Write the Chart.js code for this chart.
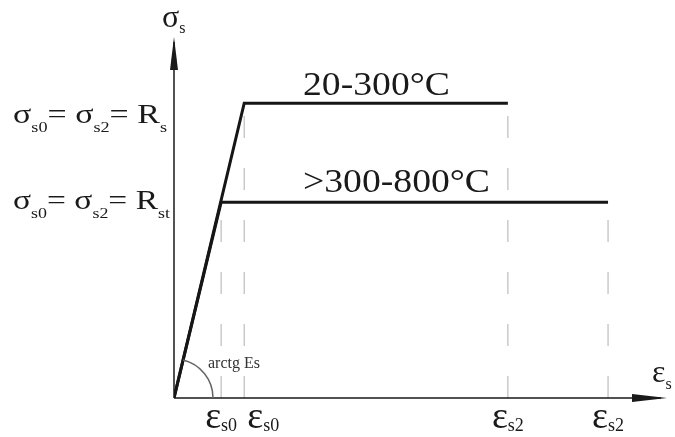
<!DOCTYPE html>
<html>
<head>
<meta charset="utf-8">
<script src="https://cdn.jsdelivr.net/npm/chart.js@4/dist/chart.umd.min.js"></script>
<style>
  html, body { margin: 0; padding: 0; background: #fff; }
  #wrap { width: 675px; height: 437px; }
</style>
</head>
<body>
<div id="wrap"><canvas id="stressChart" width="675" height="437"></canvas></div>
<script>
// strain positions on the horizontal axis (relative units, axis runs 0..100)
const strainTicks = [9.6, 14.3, 68.0, 88.4];
const strainMain = ['ε', 'ε', 'ε', 'ε'];
const strainSub = ['s0', 's0', 's2', 's2'];
const guideTops = [54.4, 81.9, 81.9, 54.4];

// stress levels on the vertical axis (relative units, axis runs 0..100)
const stressLevels = [81.9, 54.4];
const stressLabels = [
    ['σ', 's0', '= σ', 's2', '= R', 's'],
    ['σ', 's0', '= σ', 's2', '= R', 'st']
];

// the two bilinear curves
const lowTempStrain = [0, 14.3, 68.0];
const lowTempStress = [0, 81.9, 81.9];
const highTempStrain = [0, 9.6, 88.4];
const highTempStress = [0, 54.4, 54.4];
const curveLabels = ['20-300°C', '>300-800°C'];

const SERIF = '"Liberation Serif", "Times New Roman", serif';

function toPoints(xs, ys) {
    return xs.map((x, i) => ({ x: x, y: ys[i] }));
}

// text made of alternating normal / subscript parts
function richWidth(ctx, parts, size, subSize) {
    let w = 0;
    parts.forEach((p, i) => {
        ctx.font = (i % 2 ? subSize : size) + 'px ' + SERIF;
        w += ctx.measureText(p).width;
    });
    return w;
}
function drawRich(ctx, parts, x, y, size, subSize, drop) {
    let cx = x;
    parts.forEach((p, i) => {
        const sub = i % 2 === 1;
        ctx.font = (sub ? subSize : size) + 'px ' + SERIF;
        ctx.fillText(p, cx, sub ? y + drop : y);
        cx += ctx.measureText(p).width;
    });
}

const diagramPlugin = {
    id: 'diagram',
    afterDatasetsDraw(chart) {
        const ctx = chart.ctx;
        const xs = chart.scales.x, ys = chart.scales.y;
        const ox = xs.getPixelForValue(0), oy = ys.getPixelForValue(0);
        const area = chart.chartArea;
        ctx.save();
        ctx.fillStyle = '#1a1a1a';
        ctx.strokeStyle = '#1a1a1a';
        ctx.textBaseline = 'alphabetic';
        ctx.textAlign = 'left';

        // axes with arrow heads
        ctx.lineWidth = 1.5;
        ctx.beginPath();
        ctx.moveTo(ox, oy); ctx.lineTo(area.right - 4, oy);
        ctx.moveTo(ox, oy); ctx.lineTo(ox, area.top + 4);
        ctx.stroke();
        ctx.beginPath();
        ctx.moveTo(area.right + 2, oy);
        ctx.lineTo(area.right - 33, oy - 4);
        ctx.lineTo(area.right - 33, oy + 4);
        ctx.closePath();
        ctx.fill();
        ctx.beginPath();
        ctx.moveTo(ox, area.top - 1);
        ctx.lineTo(ox - 4, area.top + 32);
        ctx.lineTo(ox + 4, area.top + 32);
        ctx.closePath();
        ctx.fill();

        // axis titles
        drawRich(ctx, ['σ', 's'], ox - 12, 27, 32, 16, 6);
        drawRich(ctx, ['ε', 's'], area.right - 13, oy - 16, 32, 16, 7);

        // angle arc and its label
        const px = xs.getPixelForValue(lowTempStrain[1]);
        const py = ys.getPixelForValue(lowTempStress[1]);
        const ang = Math.atan2(py - oy, px - ox);
        ctx.strokeStyle = '#666';
        ctx.lineWidth = 1.5;
        ctx.beginPath();
        ctx.arc(ox, oy, 39, ang, 0);
        ctx.stroke();
        ctx.font = '16px ' + SERIF;
        ctx.fillStyle = '#333';
        ctx.fillText('arctg Es', ox + 34, oy - 30);

        // strain tick labels
        ctx.fillStyle = '#1a1a1a';
        const shift = [0, 1, 0, 0];
        strainTicks.forEach((v, i) => {
            const parts = [strainMain[i], strainSub[i]];
            const w = richWidth(ctx, parts, 38, 18);
            const tx = xs.getPixelForValue(v);
            const left = shift[i] ? tx + 3 : tx - w / 2;
            drawRich(ctx, parts, left, oy + 30, 38, 18, 3);
        });

        // stress level labels, stretched to the width seen in the drawing
        const drops = [20, 7];
        const spans = [[13, 167], [13, 170]];
        stressLevels.forEach((v, i) => {
            const w = richWidth(ctx, stressLabels[i], 28, 15);
            ctx.save();
            ctx.translate(spans[i][0], ys.getPixelForValue(v) + drops[i]);
            ctx.scale((spans[i][1] - spans[i][0]) / w, 1);
            drawRich(ctx, stressLabels[i], 0, 0, 28, 15, 9);
            ctx.restore();
        });

        // curve labels, stretched the same way
        const widths = [147, 187];
        const lifts = [8, 10];
        curveLabels.forEach((t, i) => {
            ctx.font = '34px ' + SERIF;
            const w = ctx.measureText(t).width;
            ctx.save();
            ctx.translate(303, ys.getPixelForValue(stressLevels[i]) - lifts[i]);
            ctx.scale(widths[i] / w, 1);
            ctx.fillText(t, 0, 0);
            ctx.restore();
        });
        ctx.restore();
    }
};

const guideSets = strainTicks.map((v, i) => ({
    data: [{ x: v, y: 0 }, { x: v, y: guideTops[i] }],
    showLine: true,
    borderColor: '#bdbdbd',
    borderWidth: 1.2,
    borderDash: [22, 30],
    pointRadius: 0,
    order: 5
}));

new Chart(document.getElementById('stressChart'), {
    type: 'scatter',
    data: {
        datasets: [
            {
                data: toPoints(lowTempStrain, lowTempStress),
                showLine: true,
                borderColor: '#161616',
                borderWidth: 3,
                pointRadius: 0,
                order: 1
            },
            {
                data: toPoints(highTempStrain, highTempStress),
                showLine: true,
                borderColor: '#161616',
                borderWidth: 3,
                pointRadius: 0,
                order: 2
            },
            ...guideSets
        ]
    },
    options: {
        responsive: false,
        animation: false,
        layout: { padding: { left: 174, right: 10, top: 38, bottom: 39 } },
        scales: {
            x: { type: 'linear', min: 0, max: 100, display: false },
            y: { type: 'linear', min: 0, max: 100, display: false }
        },
        plugins: {
            legend: { display: false },
            tooltip: { enabled: false }
        }
    },
    plugins: [diagramPlugin]
});
</script>
</body>
</html>
